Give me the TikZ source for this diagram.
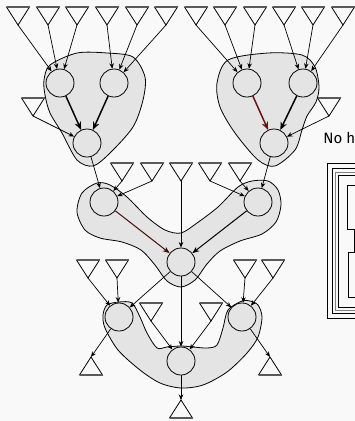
\documentclass[tikz,border=0pt]{standalone}
\usepackage{fontspec}
\setsansfont{Fira Sans}
\usetikzlibrary{arrows.meta, positioning, calc}
\definecolor{paper}{RGB}{249,249,249}
\definecolor{blobgray}{RGB}{228,228,228}
\definecolor{edgered}{RGB}{105,18,18}
\definecolor{rimgray}{RGB}{90,90,90}

\begin{document}
\begin{tikzpicture}[
        x=1pt, y=-1pt,
        line width=0.8pt,
        unit/.style={circle, draw, fill=blobgray, minimum size=28pt, inner sep=0pt},
        blob/.style={draw, fill=blobgray, line width=0.8pt},
        edge/.style={-{Stealth[length=5.5pt, width=4.5pt]}, line width=0.7pt},
        strong/.style={-{Stealth[length=8pt, width=6.5pt]}, line width=1.5pt},
        medium/.style={-{Stealth[length=7pt, width=5.5pt]}, line width=1pt},
        intri/.pic={\draw[fill=paper] (-11.5,0) -- (11.5,0) -- (0,18) -- cycle;
            \draw[rimgray, line width=1.3pt] (-11.5,0) -- (11.5,0); \coordinate (-tip) at (0,18);},
        outtri/.pic={\draw[fill=paper] (-11.5,0) -- (11.5,0) -- (0,-18) -- cycle;
            \draw[rimgray, line width=1.3pt] (-11.5,0) -- (11.5,0); \coordinate (-tip) at (0,-18);}
    ]
    \useasboundingbox (0,0) rectangle (355,421);
    \clip (0,0) rectangle (355,421);
    \fill[paper] (0,0) rectangle (355,421);

    % groups
    \draw[blob] plot[smooth cycle] coordinates {(50,65) (77,53) (107,53) (133,57) (145,77) (143,100) (133,127) (110,153) (93,166) (77,160) (62,133) (50,113) (45,95) (44,80)};
    \draw[blob] plot[smooth cycle] coordinates {(228,60) (268,53) (302,55) (315,67) (319,87) (316,102) (307,116) (302,130) (295,150) (275,166) (258,160) (235,133) (220,107) (217,83)};
    \draw[blob] plot[smooth cycle] coordinates {(97,183) (110,185) (127,197) (147,217) (165,230) (181,233) (197,223) (218,207) (238,187) (252,181) (268,181) (278,190) (281,205) (276,222) (262,234) (240,241) (220,251) (207,264) (195,280) (181,287) (167,281) (155,265) (141,250) (122,242) (100,238) (85,230) (77,212) (82,193)};
    \draw[blob] plot[smooth cycle] coordinates {(119,302) (132,303) (140,317) (147,333) (157,348) (167,347) (181,346) (193,347) (207,348) (217,345) (223,328) (228,310) (242,301) (250,301) (258,305) (262,317) (258,337) (247,353) (227,372) (203,385) (181,388) (160,383) (140,370) (118,350) (105,328) (103,315) (107,305)};

    % units
    \node[unit] (a1) at (60,83) {};
    \node[unit] (a2) at (114,83) {};
    \node[unit] (a3) at (87,143) {};
    \node[unit] (b1) at (247,83) {};
    \node[unit] (b2) at (303,83) {};
    \node[unit] (b3) at (274,143) {};
    \node[unit] (m1) at (104,202) {};
    \node[unit] (m2) at (258,202) {};
    \node[unit] (m3) at (181,262) {};
    \node[unit] (n1) at (119,317) {};
    \node[unit] (n2) at (242,317) {};
    \node[unit] (n3) at (181,361) {};

    % inputs and outputs
    \foreach \x [count=\i] in {18,48,77,107,137,166,196,225,255,284,313,343}
        \pic (t\i) at (\x,7) {intri};
    \pic (tl) at (33,98) {intri};
    \pic (tr) at (329,98) {intri};
    \foreach \x [count=\i] in {122,152,181,210,240}
        \pic (s\i) at (\x,163) {intri};
    \foreach \x [count=\i] in {88,117,245,273}
        \pic (r\i) at (\x,260) {intri};
    \pic (q1) at (151,303) {intri};
    \pic (q2) at (211,303) {intri};
    \pic (u1) at (91,375) {outtri};
    \pic (u2) at (270,375) {outtri};
    \pic (u3) at (181,418) {outtri};

    % connections
    \foreach \i in {1,2,3} \draw[edge] (t\i-tip) -- (a1);
    \foreach \i in {4,5,6} \draw[edge] (t\i-tip) -- (a2);
    \foreach \i in {7,8,9} \draw[edge] (t\i-tip) -- (b1);
    \foreach \i in {10,11,12} \draw[edge] (t\i-tip) -- (b2);
    \draw[strong] (a1) -- (a3);
    \draw[strong] (a2) -- (a3);
    \draw[strong, edgered] (b1) -- (b3);
    \draw[strong] (b2) -- (b3);
    \draw[edge] (tl-tip) -- (a3);
    \draw[edge] (tr-tip) -- (b3);
    \draw[edge] (a3) -- (m1);
    \draw[edge] (s1-tip) -- (m1);
    \draw[edge] (s2-tip) -- (m1);
    \draw[edge] (s3-tip) -- (m3);
    \draw[edge] (s4-tip) -- (m2);
    \draw[edge] (s5-tip) -- (m2);
    \draw[edge] (b3) -- (m2);
    \draw[medium, edgered!70!black] (m1) -- (m3);
    \draw[medium] (m2) -- (m3);
    \draw[edge] (m3) -- (n1);
    \draw[edge] (m3) -- (n2);
    \draw[edge] (m3) -- (n3);
    \draw[edge] (r1-tip) -- (n1);
    \draw[edge] (r2-tip) -- (n1);
    \draw[edge] (r3-tip) -- (n2);
    \draw[edge] (r4-tip) -- (n2);
    \draw[edge] (q1-tip) -- (n3);
    \draw[edge] (q2-tip) -- (n3);
    \draw[edge] (n1) -- (u1-tip);
    \draw[edge] (n2) -- (u2-tip);
    \draw[edge] (n3) -- (u3-tip);

    % cropped panel on the right
    \node[anchor=base west, inner sep=0pt, font=\sffamily\fontsize{15}{18}\selectfont] (note) at (323,143) {No h};
    \draw (327,163) rectangle (370,318);
    \draw (332,168) rectangle (370,313);
    \draw[gray] (335,172) rectangle (370,310);
    \draw (338,175) rectangle (370,307);
    \draw (360,185) -- (347,185) -- (347,229) -- (354,229) -- (354,252) -- (348,252) -- (348,297) -- (360,297);
\end{tikzpicture}
\end{document}
